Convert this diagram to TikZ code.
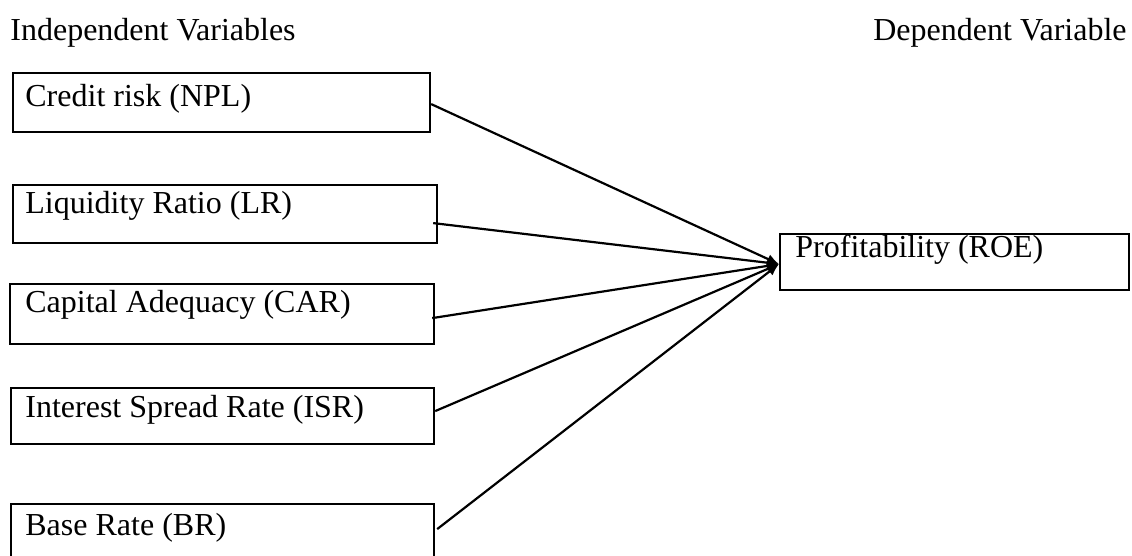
\documentclass[tikz,border=0pt]{standalone}
\usepackage{fontspec}
\setmainfont{Liberation Serif}
\usetikzlibrary{arrows.meta}
\begin{document}
\begin{tikzpicture}[x=0.5pt,y=-0.5pt,
  varbox/.style={draw=black,line width=1.1pt,rectangle,anchor=north west,inner sep=0pt},
  lbl/.style={anchor=base west,inner sep=0pt,font=\fontsize{16}{19}\selectfont},
  conn/.style={line width=1.1pt,-{Latex[length=6pt,width=5pt]}}]
\useasboundingbox (0,0) rectangle (1132,556);
\clip (0,0) rectangle (1132,556);
\node[lbl] (hind) at (10,41) {Independent Variables};
\node[lbl,anchor=base east] (hdep) at (1127,41) {Dependent Variable};
\node[varbox,minimum width=208.5pt,minimum height=29.5pt] (npl) at (12,72) {};
\node[varbox,minimum width=212pt,minimum height=29pt] (lr) at (12,184) {};
\node[varbox,minimum width=212pt,minimum height=30pt] (car) at (9,283) {};
\node[varbox,minimum width=211.5pt,minimum height=28pt] (isr) at (10,387) {};
\node[varbox,minimum width=211.5pt,minimum height=30pt] (br) at (10,503) {};
\node[varbox,minimum width=174.5pt,minimum height=28pt] (roe) at (779,233) {};
\node[lbl] (tnpl) at (25,107) {Credit risk (NPL)};
\node[lbl] (tlr) at (25,214) {Liquidity Ratio (LR)};
\node[lbl] (tcar) at (25,313) {Capital Adequacy (CAR)};
\node[lbl] (tisr) at (25,417) {Interest Spread Rate (ISR)};
\node[lbl] (tbr) at (25,535) {Base Rate (BR)};
\node[lbl] (troe) at (795,258) {Profitability (ROE)};
\draw[conn] ([yshift=-0.75pt]npl.east) -- ([yshift=-1pt]roe.west);
\draw[conn] ([xshift=-2.5pt,yshift=-4.5pt]lr.east) -- ([yshift=-1pt]roe.west);
\draw[conn] ([xshift=-1.5pt,yshift=-2pt]car.east) -- ([yshift=-1pt]roe.west);
\draw[conn] ([yshift=2.5pt]isr.east) -- ([yshift=-1pt]roe.west);
\draw[conn] ([xshift=1pt,yshift=2.5pt]br.east) -- ([yshift=-1pt]roe.west);
\end{tikzpicture}
\end{document}
